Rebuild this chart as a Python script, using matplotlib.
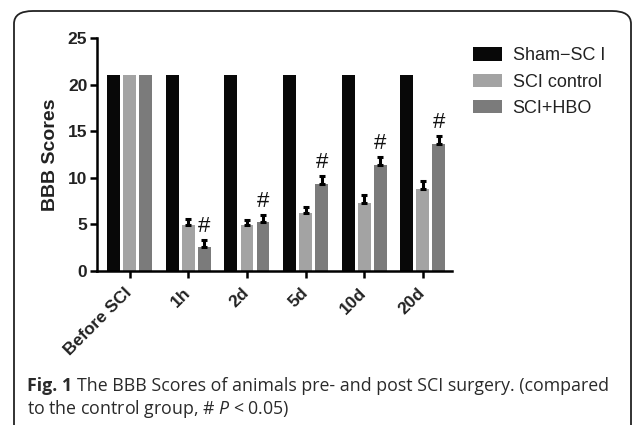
import matplotlib
matplotlib.use('Agg')
import matplotlib.pyplot as plt
import numpy as np
from matplotlib.patches import FancyBboxPatch

# BBB scores per time point
time_points = ['Before SCI', '1h', '2d', '5d', '10d', '20d']
sham_sci = [21, 21, 21, 21, 21, 21]
sci_control = [21, 4.9, 4.9, 6.2, 7.3, 8.8]
sci_hbo = [21, 2.6, 5.3, 9.3, 11.35, 13.6]
sci_control_err = [0, 0.65, 0.6, 0.7, 0.9, 0.9]
sci_hbo_err = [0, 0.75, 0.7, 0.9, 0.9, 0.9]
significant = [False, True, True, True, True, True]

group_names = ['Sham\u2212SC I', 'SCI control', 'SCI+HBO']
group_colors = ['#080808', '#a3a3a3', '#7b7b7b']

plt.rcParams['font.family'] = ['Liberation Sans', 'DejaVu Sans']
plt.rcParams['mathtext.fontset'] = 'custom'
plt.rcParams['mathtext.it'] = 'Open Sans:italic'
plt.rcParams['mathtext.rm'] = 'Open Sans'

W, H = 633, 425
fig = plt.figure(figsize=(W / 100, H / 100), dpi=100)

# rounded frame around figure panel
frame = FancyBboxPatch((14 / W, -0.2), (617 / W), 1.2 - 11 / H,
                       boxstyle='round,pad=0,rounding_size=0.03',
                       transform=fig.transFigure, fill=False,
                       edgecolor='#222222', linewidth=1.3)
fig.patches.append(frame)

ax = fig.add_axes([97 / W, 1 - 271 / H, 355 / W, 233 / H])

x = np.arange(len(time_points))
pitch = 0.274
width = 0.22
series = [sham_sci, sci_control, sci_hbo]
errs = [None, sci_control_err, sci_hbo_err]
for i, (vals, err) in enumerate(zip(series, errs)):
    pos = x + (i - 1) * pitch
    ax.bar(pos, vals, width, color=group_colors[i], label=group_names[i], zorder=2)
    if err is not None:
        e = np.array(err)
        mask = e > 0
        ax.errorbar(pos[mask], np.array(vals)[mask],
                    yerr=[np.zeros(mask.sum()), e[mask]],
                    fmt='none', ecolor='black', elinewidth=2.2,
                    capsize=2.5, capthick=2.2, zorder=3)

# significance marks over SCI+HBO bars
for xi, v, e, s in zip(x, sci_hbo, sci_hbo_err, significant):
    if s:
        ax.text(xi + pitch, v + e + 0.3, '#', ha='center', va='bottom',
                fontsize=16, color='#111111')

ax.set_xlim(-0.56, 5.5)
ax.set_ylim(0, 25)
ax.set_yticks([0, 5, 10, 15, 20, 25])
ax.set_xticks(x)
ax.set_xticklabels(time_points, rotation=45, ha='right', va='center',
                   rotation_mode='anchor',
                   fontsize=12.5, fontweight='bold', color='#222222')
for lab in ax.get_yticklabels():
    lab.set_fontweight('bold')
    lab.set_fontsize(12.5)
    lab.set_color('#222222')
ax.tick_params(axis='both', direction='out', length=5, width=1.8, pad=2)
ax.tick_params(axis='x', pad=9)
for side in ['top', 'right']:
    ax.spines[side].set_visible(False)
for side in ['left', 'bottom']:
    ax.spines[side].set_linewidth(1.8)
ax.set_ylabel('BBB Scores', fontsize=14, fontweight='bold', color='#222222', labelpad=6)

leg = ax.legend(loc='upper left', bbox_to_anchor=(1.059, 0.96), frameon=False,
                borderaxespad=0, borderpad=0,
                fontsize=13, handlelength=1.6, handleheight=0.75,
                handletextpad=0.6, labelspacing=0.52)
for t in leg.get_texts():
    t.set_color('#222222')

# caption: bold figure number, then plain text
cap_kw = dict(fontsize=12.8, family='Open Sans', va='center', color='#2a2a2a')
fig_no = fig.text(27 / W, 1 - 386 / H, 'Fig. 1', fontweight='bold', **cap_kw)
renderer = fig.canvas.get_renderer()
bb = fig_no.get_window_extent(renderer)
fig.text((bb.x1 + 5) / W, 1 - 386 / H,
         'The BBB Scores of animals pre- and post SCI surgery. (compared', **cap_kw)
fig.text(27 / W, 1 - 409 / H,
         r'to the control group, # $\it{P}$ < 0.05)', **cap_kw)

fig.savefig('out.png', dpi=100)
